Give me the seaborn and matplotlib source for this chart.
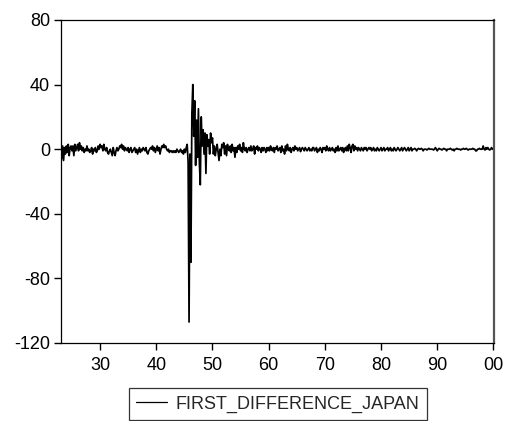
import numpy as np
import pandas as pd
import seaborn as sns
import matplotlib.pyplot as plt

# first difference, six points per year (1923-2000)
d1923 = [0, -6, 2, -7, 1, -3]
d1924 = [2, -2, 3, -4, 1, 2]
d1925 = [-1, 2, -4, 3, -1, 1]
d1926 = [3, -1, 4, 0, 2, -1]
d1927 = [1, -2, 0, -1, 2, -1]
d1928 = [0, -2, -1, 1, -3, 0]
d1929 = [-1, 1, -2, -1, 2, 0]
d1930 = [3, 1, 2, -1, 3, 0]
d1931 = [-1, 1, -2, -3, -1, 0]
d1932 = [-2, -4, 1, -2, -4, -1]
d1933 = [1, -1, 0, 2, 1, 3]
d1934 = [0, 2, -1, 1, 0, -1]
d1935 = [1, -2, 0, 1, -2, -1]
d1936 = [0, 1, -2, 0, -3, -1]
d1937 = [1, -2, 0, -1, 1, 0]
d1938 = [-1, 1, -2, -3, -1, 0]
d1939 = [1, 0, 2, -1, 1, -2]
d1940 = [0, 2, -1, 1, -3, 0]
d1941 = [2, 1, 3, 1, 2, 0]
d1942 = [-1, 0, -2, -1, -1, -2]
d1943 = [-1, -2, -1, -2, 0, -1]
d1944 = [-2, -1, 0, -2, -1, -3]
d1945 = [0, -2, 1, 3, -8, -107]
d1946 = [-3, -70, 22, 40, 8, 30]
d1947 = [-10, 18, -5, 25, -8, -22]
d1948 = [20, 2, 12, -3, 10, -15]
d1949 = [9, 2, 6, -3, 10, 4]
d1950 = [7, -3, 2, -4, 0, 3]
d1951 = [-2, -7, 0, -4, 3, 1]
d1952 = [4, -3, 2, -4, 3, 0]
d1953 = [-1, 2, -2, 3, -1, 1]
d1954 = [-5, 1, -2, 2, 0, 3]
d1955 = [-1, 1, -2, 4, 0, -1]
d1956 = [1, -2, 0, 1, -1, 2]
d1957 = [-1, 0, 2, -3, 1, 0]
d1958 = [2, -1, 1, 0, -2, 1]
d1959 = [-1, 1, 0, -2, 1, -1]
d1960 = [1, -1, 2, 0, -1, 1]
d1961 = [-2, 1, 0, 2, -1, 0]
d1962 = [1, -2, 2, -1, 0, -3]
d1963 = [2, -1, 3, 0, -1, 1]
d1964 = [-2, 0, 1, -1, 2, 0]
d1965 = [1, -1, 0, 1, -1.5, 0]
d1966 = [1, 0, -1, 1, 0, -1]
d1967 = [0, 1, -1, 0, -1, 1]
d1968 = [1, -1, 0, 1, -2, 0]
d1969 = [-1, 1, 0, -2, 1, 0]
d1970 = [1, -1, 2, 0, -1, 1]
d1971 = [-1, 0, 1, -1, 0, -2]
d1972 = [1, -1, 2, -1, 0, 1]
d1973 = [-1, 1, -2, 0, 1, -1]
d1974 = [2, -1, 3, 1, -2, 2]
d1975 = [3, -1, 2, 0, 1, -1]
d1976 = [1, 0, -1, 1, 0, -1]
d1977 = [1, 0, 1, -1, 0, 1]
d1978 = [0, 1, -1, 0, 1, -1]
d1979 = [0, -1, 1, 0, -1, 0]
d1980 = [1, -1, 0, 1, -1, 0]
d1981 = [0, 1, -1, 0, 1, -1]
d1982 = [0, -1, 1, 0, -1, 0]
d1983 = [1, 0, -1, 0, 1, -1]
d1984 = [0, 1, 0, -1, 0, 1]
d1985 = [-1, 0, 1, -1, 0, 0]
d1986 = [0.5, 0, -1, 0, 0.5, 0]
d1987 = [0, 0.5, 0, -1, 0, 0]
d1988 = [0, -0.5, 0, 0.5, 0, 0]
d1989 = [0, 0, -0.5, 0, 1, 0]
d1990 = [-1, 0, 0.5, 0, 0, -0.5]
d1991 = [0, 0.5, 0, 0, -1, 0]
d1992 = [0, 0, 0.5, 0, -0.5, 0]
d1993 = [-1, 0, 0, 0.5, 0, 0]
d1994 = [0, -0.5, 0, 0, 0.5, 0]
d1995 = [0, 0.5, 0, -0.5, 0, 0]
d1996 = [0, 0, 0.5, 0, 0, -1]
d1997 = [-1, 0, 0, 0.5, 0, 0]
d1998 = [0, 2, 0, -0.5, 1, 0]
d1999 = [1, 0, -0.5, 0, 1, 0]
d2000 = [0]

values = (d1923 + d1924 + d1925 + d1926 + d1927 + d1928 + d1929 + d1930
          + d1931 + d1932 + d1933 + d1934 + d1935 + d1936 + d1937 + d1938
          + d1939 + d1940 + d1941 + d1942 + d1943 + d1944 + d1945 + d1946
          + d1947 + d1948 + d1949 + d1950 + d1951 + d1952 + d1953 + d1954
          + d1955 + d1956 + d1957 + d1958 + d1959 + d1960 + d1961 + d1962
          + d1963 + d1964 + d1965 + d1966 + d1967 + d1968 + d1969 + d1970
          + d1971 + d1972 + d1973 + d1974 + d1975 + d1976 + d1977 + d1978
          + d1979 + d1980 + d1981 + d1982 + d1983 + d1984 + d1985 + d1986
          + d1987 + d1988 + d1989 + d1990 + d1991 + d1992 + d1993 + d1994
          + d1995 + d1996 + d1997 + d1998 + d1999 + d2000)
years = 1923 + np.arange(len(values)) / 6.0

xticks = [1930, 1940, 1950, 1960, 1970, 1980, 1990, 2000]
xlabels = ["30", "40", "50", "60", "70", "80", "90", "00"]
yticks = [-120, -80, -40, 0, 40, 80]

df = pd.DataFrame({"year": years, "FIRST_DIFFERENCE_JAPAN": values})

sns.set_style("white")
plt.rcParams['font.family'] = ['Liberation Sans', 'DejaVu Sans']
plt.rcParams['axes.unicode_minus'] = False

fig = plt.figure(figsize=(5.06, 4.21), dpi=100)
ax = fig.add_axes([0.1206, 0.1853, 0.8557, 0.7672])
sns.lineplot(data=df, x="year", y="FIRST_DIFFERENCE_JAPAN", color="black",
             linewidth=1.25, estimator=None, ax=ax, label="FIRST_DIFFERENCE_JAPAN")

ax.set_xlim(1923.05, 2000.1)
ax.set_ylim(-120, 80)
ax.set_xticks(xticks)
ax.set_xticklabels(xlabels)
ax.set_yticks(yticks)
ax.set_xlabel("")
ax.set_ylabel("")
ax.tick_params(axis="both", direction="out", length=5, width=1, color="black",
               labelsize=13, labelcolor="black", bottom=True, left=True)
ax.tick_params(axis="x", pad=5)
ax.tick_params(axis="y", pad=3)
for side in ["left", "bottom", "top"]:
    ax.spines[side].set_color("black")
    ax.spines[side].set_linewidth(0.9)
ax.spines["right"].set_color("#555555")
ax.spines["right"].set_linewidth(1.6)

ax.get_legend().remove()
h, l = ax.get_legend_handles_labels()
leg = fig.legend(h, l, loc="lower center", bbox_to_anchor=(0.549, 0.003),
                 fontsize=13, frameon=True, fancybox=False, handlelength=1.7,
                 handletextpad=0.5, borderpad=0.4, borderaxespad=0)
leg.get_frame().set_edgecolor("black")
leg.get_frame().set_linewidth(0.9)
for line in leg.get_lines():
    line.set_linewidth(0.9)

fig.savefig("out.png", dpi=100)
